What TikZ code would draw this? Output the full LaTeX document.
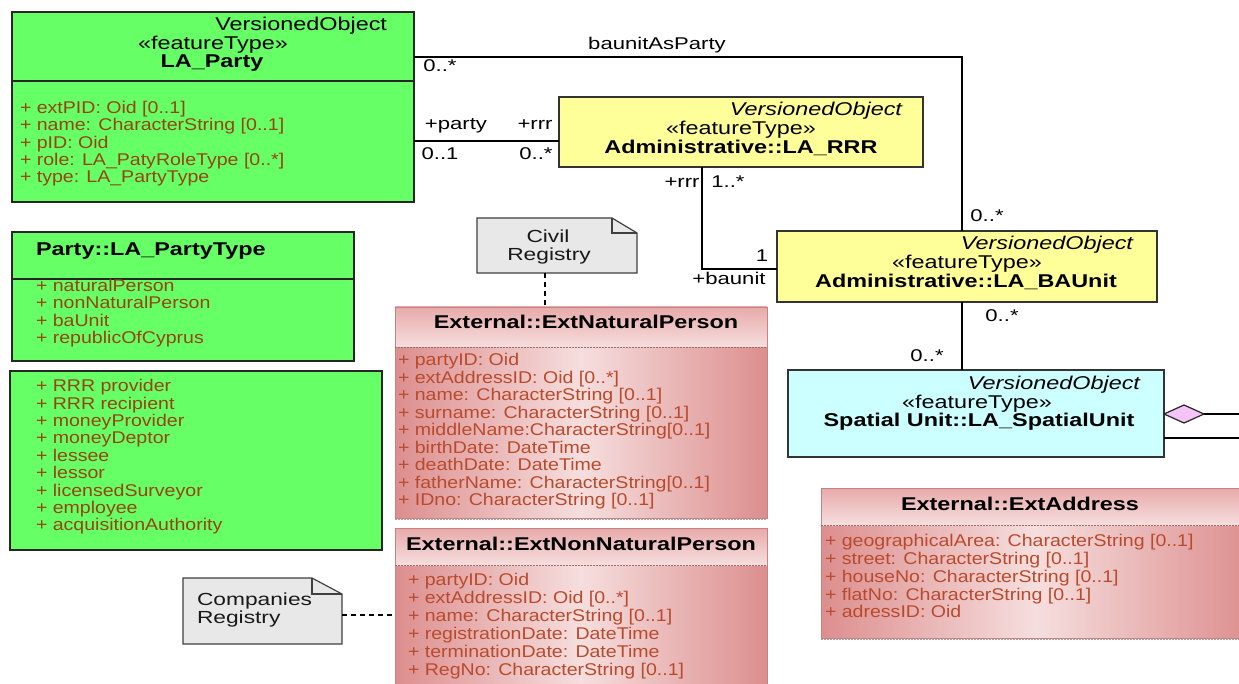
\documentclass[tikz,border=0pt]{standalone}
\usepackage{fontspec}
\setmainfont{Liberation Sans}
\newfontfamily\stfont{Liberation Sans}[FakeStretch=1.15]
\newfontfamily\hdfont{Liberation Sans}[FakeStretch=1.265]
\newfontfamily\ntfont{Liberation Sans}[FakeStretch=1.3]
\definecolor{umlgreen}{RGB}{102,255,102}
\definecolor{umlyellow}{RGB}{255,255,153}
\definecolor{umlcyan}{RGB}{204,255,255}
\definecolor{notegray}{RGB}{232,232,232}
\definecolor{attrgreen}{RGB}{150,68,18}
\definecolor{attrpink}{RGB}{185,75,45}
\definecolor{pinkD}{RGB}{221,142,142}
\definecolor{pinkL}{RGB}{246,222,222}
\definecolor{pinkH}{RGB}{232,170,170}
\definecolor{pinkedge}{RGB}{200,130,130}
\definecolor{diapink}{RGB}{245,195,245}
\begin{document}
\begin{tikzpicture}[x=1pt,y=-1pt,
  every node/.style={inner sep=0pt, outer sep=0pt},
  txt/.style={text height=0.72em, text depth=0pt},
  hd/.style={txt, font=\hdfont\fontsize{18.5}{19}\selectfont, text=black},
  hdb/.style={hd, font=\hdfont\bfseries\fontsize{18.5}{19}\selectfont},
  hdi/.style={hd, font=\hdfont\itshape\fontsize{18.5}{19}\selectfont},
  atg/.style={txt, font=\stfont\fontsize{17}{18}\selectfont, text=attrgreen, anchor=west},
  atp/.style={txt, font=\stfont\fontsize{17}{18}\selectfont, text=attrpink, anchor=west},
  lbl/.style={txt, font=\ntfont\fontsize{17}{18}\selectfont, text=black},
  notetxt/.style={txt, font=\ntfont\fontsize{17.5}{18}\selectfont, text=black!90},
  greenbox/.style={draw=black!85, line width=1.3pt, fill=umlgreen},
  yellowbox/.style={draw=black!80, line width=1.3pt, fill=umlyellow},
  cyanbox/.style={draw=black!80, line width=1.3pt, fill=umlcyan},
  pinkbody/.style={left color=pinkD, right color=pinkD, middle color=pinkL},
  pinkhead/.style={top color=pinkH, bottom color=pinkL},
  pinkedgeline/.style={draw=pinkedge, line width=0.8pt},
  conn/.style={draw=black, line width=1.5pt},
  dashedc/.style={draw=black, line width=1.3pt, dash pattern=on 5pt off 4pt},
  notebox/.style={draw=black!75, line width=1.2pt, fill=notegray, line join=miter}
]
\useasboundingbox (0,0) rectangle (1239,684);
\clip (0,0) rectangle (1239,684);
\fill[white] (0,0) rectangle (1239,684);

% ---------------- LA_Party
\node[greenbox, minimum width=402, minimum height=190, anchor=north west] (party) at (12,12) {};
\draw[draw=black!85, line width=1.3pt] (party.west |- 0,81) -- (party.east |- 0,81);
\node[hd, anchor=east] (partyV) at (387,27) {VersionedObject};
\node[hd] (partyS) at (213,45.5) {«featureType»};
\node[hdb] (partyN) at (212,64) {LA\_Party};
\foreach \t [count=\i] in {{+ extPID: Oid [0..1]},{+ name: CharacterString [0..1]},{+ pID: Oid},{+ role: LA\_PatyRoleType [0..*]},{+ type: LA\_PartyType}}
  \node[atg] (pa\i) at ({20},{110+17.3*(\i-1)}) {\t};

% ---------------- LA_PartyType
\node[greenbox, minimum width=342, minimum height=129, anchor=north west] (ptype) at (12,232) {};
\draw[draw=black!85, line width=1.3pt] (ptype.west |- 0,279) -- (ptype.east |- 0,279);
\node[hdb, anchor=west] (ptypeN) at (36,252) {Party::LA\_PartyType};
\foreach \t [count=\i] in {{+ naturalPerson},{+ nonNaturalPerson},{+ baUnit},{+ republicOfCyprus}}
  \node[atg] (pt\i) at ({36},{288+17.3*(\i-1)}) {\t};

% ---------------- roles
\node[greenbox, minimum width=372, minimum height=179, anchor=north west] (roles) at (10,371) {};
\foreach \t [count=\i] in {{+ RRR provider},{+ RRR recipient},{+ moneyProvider},{+ moneyDeptor},{+ lessee},{+ lessor},{+ licensedSurveyor},{+ employee},{+ acquisitionAuthority}}
  \node[atg] (ro\i) at ({36},{388+17.4*(\i-1)}) {\t};

% ---------------- LA_RRR
\node[yellowbox, minimum width=364, minimum height=70, anchor=north west] (rrr) at (559,97) {};
\node[hdi, anchor=east] (rrrV) at (902,112) {VersionedObject};
\node[hd] (rrrS) at (741,131) {«featureType»};
\node[hdb] (rrrN) at (741,150) {Administrative::LA\_RRR};

% ---------------- LA_BAUnit
\node[yellowbox, minimum width=380, minimum height=71, anchor=north west] (baunit) at (777,231) {};
\node[hdi, anchor=east] (bauV) at (1133,246) {VersionedObject};
\node[hd] (bauS) at (967,265) {«featureType»};
\node[hdb] (bauN) at (966,284) {Administrative::LA\_BAUnit};

% ---------------- LA_SpatialUnit
\node[cyanbox, minimum width=376, minimum height=87, anchor=north west] (spatial) at (788,370) {};
\node[hdi, anchor=east] (spV) at (1140,386) {VersionedObject};
\node[hd] (spS) at (977,404.5) {«featureType»};
\node[hdb] (spN) at (979,423) {Spatial Unit::LA\_SpatialUnit};

% ---------------- ExtNaturalPerson
\node[pinkbody, minimum width=372, minimum height=211, anchor=north west] (natp) at (395,307) {};
\shade[pinkhead] (natp.north west) rectangle (natp.east |- 0,347);
\draw[pinkedgeline] (natp.north west) rectangle (natp.south east);
\draw[draw=pinkedge!80!black, line width=0.9pt, dash pattern=on 2pt off 1pt] (natp.west |- 0,347) -- (natp.east |- 0,347);
\draw[draw=black!35, line width=1pt, dash pattern=on 2pt off 1pt] ([yshift=-1.5pt]natp.south west) -- ([yshift=-1.5pt]natp.south east);
\node[hdb] (natpN) at (586,325) {External::ExtNaturalPerson};
\foreach \t [count=\i] in {{+ partyID: Oid},{+ extAddressID: Oid [0..*]},{+ name: CharacterString [0..1]},{+ surname: CharacterString [0..1]},{+ middleName:CharacterString[0..1]},{+ birthDate: DateTime},{+ deathDate: DateTime},{+ fatherName: CharacterString[0..1]},{+ IDno: CharacterString [0..1]}}
  \node[atp] (np\i) at ({398},{362+17.5*(\i-1)}) {\t};

% ---------------- ExtNonNaturalPerson
\node[pinkbody, minimum width=372, minimum height=170, anchor=north west] (nonnat) at (395,528) {};
\shade[pinkhead] (nonnat.north west) rectangle (nonnat.east |- 0,565);
\draw[pinkedgeline] (nonnat.north west) rectangle (nonnat.south east);
\draw[draw=pinkedge!80!black, line width=0.9pt, dash pattern=on 2pt off 1pt] (nonnat.west |- 0,565) -- (nonnat.east |- 0,565);
\node[hdb] (nonnatN) at (581,547) {External::ExtNonNaturalPerson};
\foreach \t [count=\i] in {{+ partyID: Oid},{+ extAddressID: Oid [0..*]},{+ name: CharacterString [0..1]},{+ registrationDate: DateTime},{+ terminationDate: DateTime},{+ RegNo: CharacterString [0..1]}}
  \node[atp] (nn\i) at ({408},{582+18*(\i-1)}) {\t};

% ---------------- ExtAddress
\node[pinkbody, minimum width=430, minimum height=150, anchor=north west] (addr) at (821,488) {};
\shade[pinkhead] (addr.north west) rectangle (addr.east |- 0,525);
\draw[pinkedgeline] (addr.north west) rectangle (addr.south east);
\draw[draw=pinkedge!80!black, line width=0.9pt, dash pattern=on 2pt off 1pt] (addr.west |- 0,525) -- (addr.east |- 0,525);
\draw[draw=black!35, line width=1pt, dash pattern=on 2pt off 1pt] ([yshift=-1.5pt]addr.south west) -- ([yshift=-1.5pt]addr.south east);
\node[hdb] (addrN) at (1020,507) {External::ExtAddress};
\foreach \t [count=\i] in {{+ geographicalArea: CharacterString [0..1]},{+ street: CharacterString [0..1]},{+ houseNo: CharacterString [0..1]},{+ flatNo: CharacterString [0..1]},{+ adressID: Oid}}
  \node[atp] (ad\i) at ({825},{543+17.8*(\i-1)}) {\t};

% ---------------- notes
\node[minimum width=160, minimum height=55, anchor=north west] (civil) at (477,218) {};
\draw[notebox] (civil.north west) -- ([xshift=-25pt]civil.north east) -- ([yshift=-15pt]civil.north east) -- (civil.south east) -- (civil.south west) -- cycle;
\draw[notebox, fill=none] ([xshift=-25pt]civil.north east) -- ([xshift=-25pt,yshift=-15pt]civil.north east) -- ([yshift=-15pt]civil.north east);
\node[notetxt] (civil1) at (548,239) {Civil};
\node[notetxt] (civil2) at (549,257) {Registry};

\node[minimum width=159, minimum height=66, anchor=north west] (comp) at (183,578) {};
\draw[notebox] (comp.north west) -- ([xshift=-30pt]comp.north east) -- ([yshift=-16pt]comp.north east) -- (comp.south east) -- (comp.south west) -- cycle;
\draw[notebox, fill=none] ([xshift=-30pt]comp.north east) -- ([xshift=-30pt,yshift=-16pt]comp.north east) -- ([yshift=-16pt]comp.north east);
\node[notetxt, anchor=west] (comp1) at (197,602) {Companies};
\node[notetxt, anchor=west] (comp2) at (197,620) {Registry};

% ---------------- connectors
\draw[conn] (party.east |- 0,57) -| ([xshift=-5pt]baunit.north);
\node[lbl] (lAsParty) at (657,46) {baunitAsParty};
\node[lbl] (lm1) at (440,68) {0..*};
\node[lbl] (lm2) at (987,218) {0..*};

\draw[conn] (party.east |- 0,141) -- (rrr.west |- 0,141);
\node[lbl] (lparty) at (456,126) {+party};
\node[lbl] (lrrr1) at (535,126) {+rrr};
\node[lbl] (lm3) at (440,156) {0..1};
\node[lbl] (lm4) at (536,156) {0..*};

\draw[conn] (rrr.south -| 702,0) |- (baunit.west |- 0,269);
\node[lbl] (lrrr2) at (682,184) {+rrr};
\node[lbl] (lm5) at (728,184) {1..*};
\node[lbl] (lm6) at (762,258) {1};
\node[lbl] (lbaunit) at (729,281) {+baunit};

\draw[conn] (baunit.south -| 962,0) -- (spatial.north -| 962,0);
\node[lbl] (lm7) at (1002,318) {0..*};
\node[lbl] (lm8) at (927,358) {0..*};

\coordinate (aggR) at (1239,414);
\coordinate (assocR) at (1239,438);
\draw[line width=1.2pt, draw=black!85, fill=diapink, line join=miter] (spatial.east |- 0,414) -- ++(20,-9) -- ++(20,9) -- ++(-20,9) -- cycle;
\draw[conn] ([xshift=40pt]spatial.east |- 0,414) -- (aggR);
\draw[conn] (spatial.east |- 0,438) -- (assocR);

\draw[dashedc] (civil.south -| 545,0) -- (natp.north -| 545,0);
\draw[dashedc] (comp.east |- 0,615) -- (nonnat.west |- 0,615);
\end{tikzpicture}
\end{document}
